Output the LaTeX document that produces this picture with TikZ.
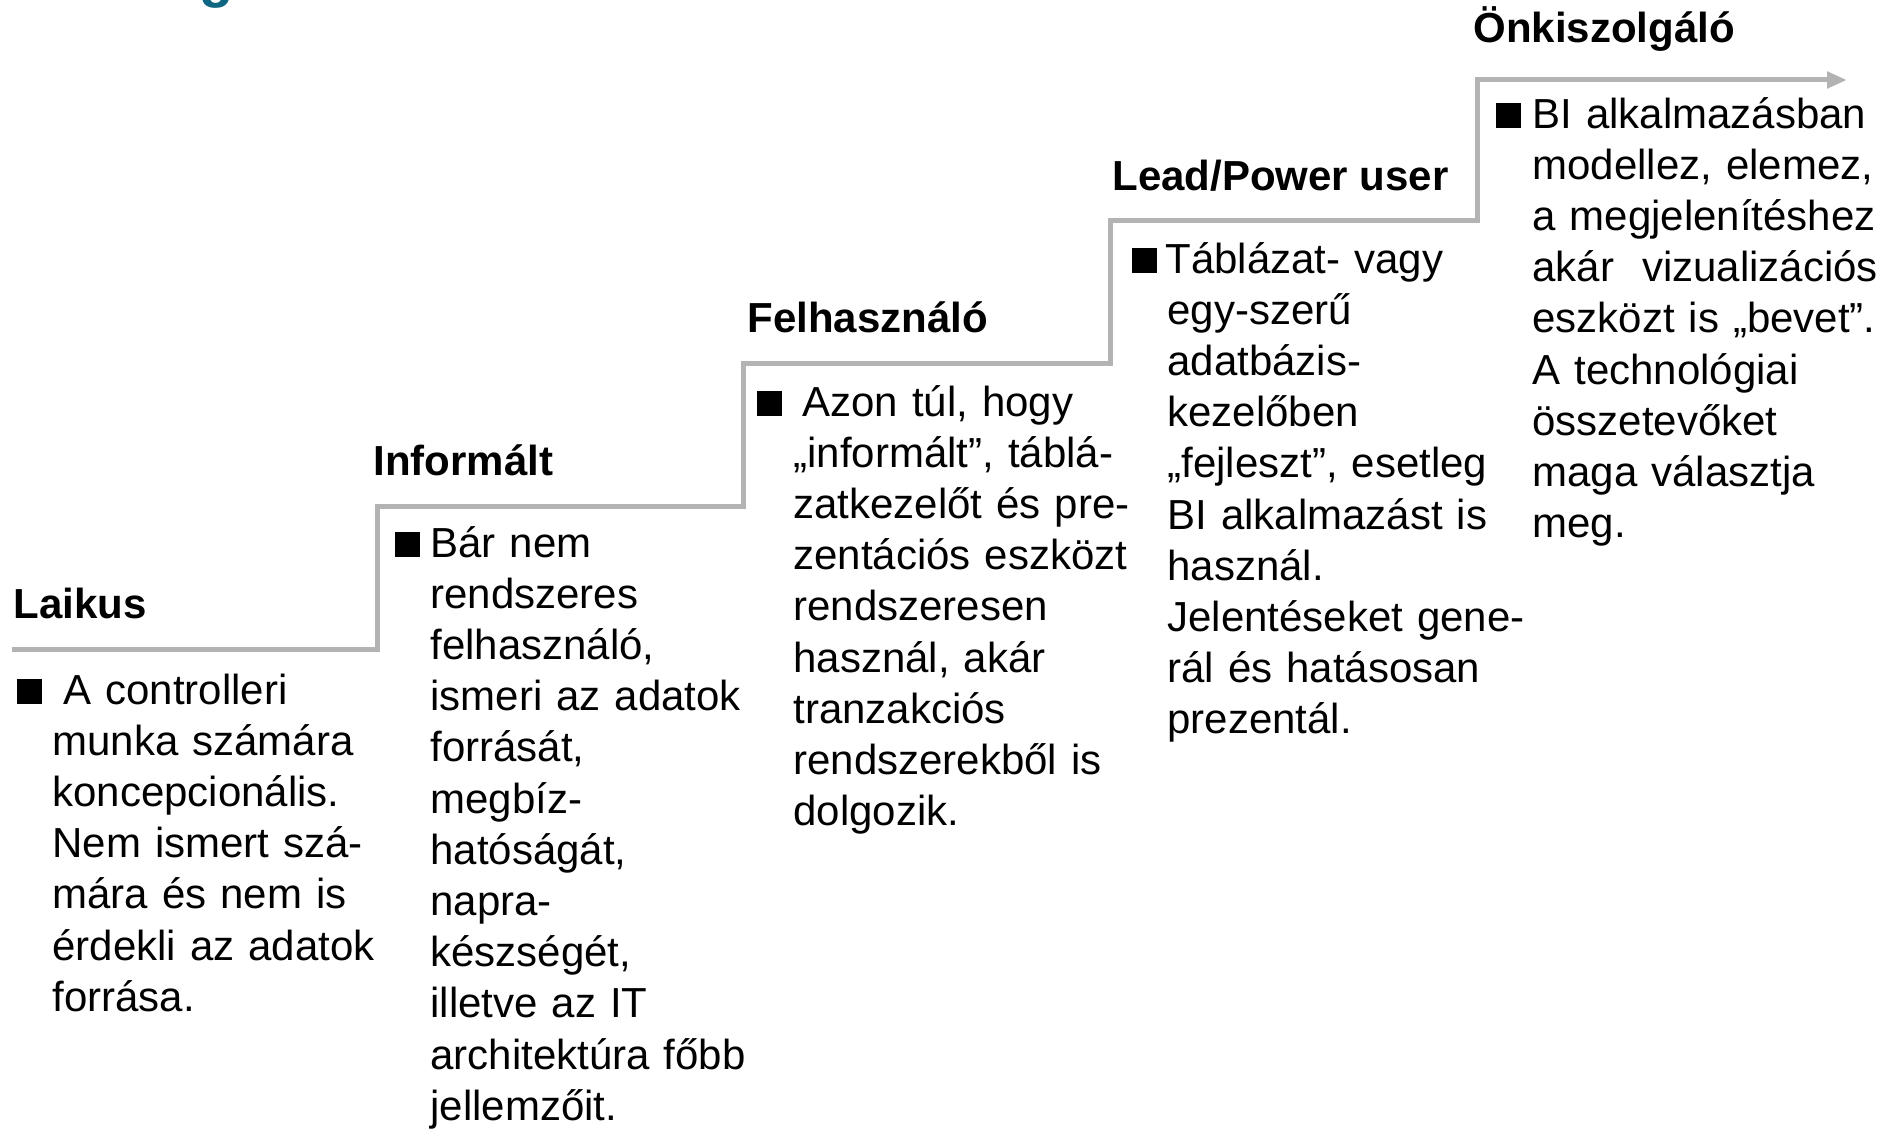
\documentclass[tikz,border=0pt]{standalone}
\usepackage{fontspec}
\setmainfont{Liberation Sans}
\usetikzlibrary{arrows.meta}
\definecolor{stairgray}{HTML}{B3B3B3}
\definecolor{titleteal}{HTML}{0F6683}
\newcommand{\bsq}{\rule{12.5pt}{12.5pt}}
\newcommand{\ci}{\hspace*{17.5pt}}
\begin{document}
\begin{tikzpicture}[x=0.5pt,y=-0.5pt,
  head/.style={anchor=base west, inner sep=0pt, font=\fontsize{21pt}{25.6pt}\selectfont\bfseries},
  body/.style={anchor=base west, inner sep=0pt, text width=230pt, align=left, font=\fontsize{21pt}{25.6pt}\selectfont},
  stair/.style={draw=stairgray, line width=2.5pt, line join=miter, -{Triangle[length=10pt,width=8pt]}}]
\useasboundingbox (0,0) rectangle (1894,1129);
\begin{scope}
\clip (0,0) rectangle (1894,1129);
\node[anchor=base west, inner sep=0pt, text=titleteal, font=\fontsize{28pt}{30pt}\selectfont\bfseries] (title) at (199,-3) {g};
\end{scope}
% staircase
\coordinate (s0) at (12,649);
\coordinate (s1) at (377,649);
\coordinate (s2) at (377,506);
\coordinate (s3) at (743,506);
\coordinate (s4) at (743,363);
\coordinate (s5) at (1110,363);
\coordinate (s6) at (1110,220);
\coordinate (s7) at (1477,220);
\coordinate (s8) at (1477,80);
\coordinate (s9) at (1847,80);
\draw[stair] (s0) -- (s1) -- (s2) -- (s3) -- (s4) -- (s5) -- (s6) -- (s7) -- (s8) -- (s9);
% headings
\node[head] (h1) at (13,618) {Laikus};
\node[head] (h2) at (373,475) {Informált};
\node[head] (h3) at (747,332) {Felhasználó};
\node[head] (h4) at (1112,190) {Lead/Power user};
\node[head] (h5) at (1473,43) {Önkiszolgáló};
% bodies
\node[body] (b1) at (17,704) {\bsq\hspace*{10.5pt}A controlleri\\
\ci munka számára\\
\ci koncepcionális.\\
\ci Nem ismert szá-\\
\ci mára és nem is\\
\ci érdekli az adatok\\
\ci forrása.};
\node[body] (b2) at (395,557) {\bsq\hspace*{5pt}Bár nem\\
\ci rendszeres\\
\ci felhasználó,\\
\ci ismeri az adatok\\
\ci forrását,\\
\ci megbíz-\\
\ci hatóságát,\\
\ci napra-\\
\ci készségét,\\
\ci illetve az IT\\
\ci architektúra főbb\\
\ci jellemzőit.};
\node[body] (b3) at (757,416) {\bsq\hspace*{10pt}Azon túl, hogy\\
\hspace*{18pt}„informált”, táblá-\\
\hspace*{18pt}zatkezelőt és pre-\\
\hspace*{18pt}zentációs eszközt\\
\hspace*{18pt}rendszeresen\\
\hspace*{18pt}használ, akár\\
\hspace*{18pt}tranzakciós\\
\hspace*{18pt}rendszerekből is\\
\hspace*{18pt}dolgozik.};
\node[body] (b4) at (1132,273) {\bsq\hspace*{4pt}Táblázat- vagy\\
\ci egy-szerű\\
\ci adatbázis-\\
\ci kezelőben\\
\ci „fejleszt”, esetleg\\
\ci BI alkalmazást is\\
\ci használ.\\
\ci Jelentéseket gene-\\
\ci rál és hatásosan\\
\ci prezentál.};
\node[body] (b5) at (1496,128) {\bsq\hspace*{5.5pt}BI alkalmazásban\\
\hspace*{18pt}modellez, elemez,\\
\hspace*{18pt}a megjelenítéshez\\
\hspace*{18pt}akár\ \ vizualizációs\\
\hspace*{18pt}eszközt is „bevet”.\\
\hspace*{18pt}A technológiai\\
\hspace*{18pt}összetevőket\\
\hspace*{18pt}maga választja\\
\hspace*{18pt}meg.};
\end{tikzpicture}
\end{document}
